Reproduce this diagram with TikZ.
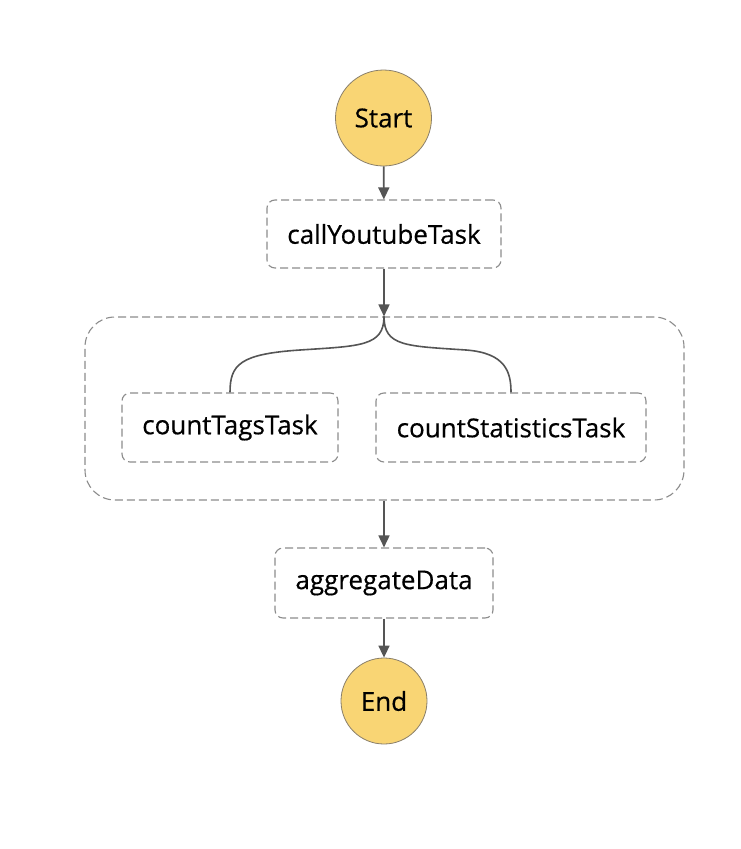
\documentclass[tikz,border=0pt]{standalone}
\usepackage{fontspec}
\setmainfont{Open Sans}[FakeBold=0.5, BoldFont=*]
\usetikzlibrary{arrows.meta}
\definecolor{startfill}{HTML}{F9D574}
\definecolor{circborder}{HTML}{8A7F6A}
\definecolor{dashgray}{HTML}{8C8C8C}
\definecolor{arrowgray}{HTML}{555555}
\tikzset{
  statecirc/.style={circle, fill=startfill, draw=circborder, line width=0.8pt, inner sep=0pt, font=\fontsize{26}{30}\selectfont\bfseries},
  taskbox/.style={rectangle, rounded corners=8pt, draw=dashgray, line width=1.1pt, dash pattern=on 8pt off 4pt, inner sep=0pt, font=\fontsize{26}{30}\selectfont\bfseries},
  flow/.style={draw=arrowgray, line width=1.6pt, -{Triangle[width=11pt,length=12pt]}},
  forkline/.style={draw=arrowgray, line width=1.6pt},
}
\begin{document}
\begin{tikzpicture}[x=1pt,y=-1pt]
\useasboundingbox[fill=white] (0,0) rectangle (740,849);
\node[statecirc, minimum size=96pt] (start) at (383.5,118) {Start};
\node[taskbox, minimum width=234pt, minimum height=68pt] (call) at (384,234) {callYoutubeTask};
\node[taskbox, rounded corners=30pt, minimum width=599pt, minimum height=183pt] (par) at (384.5,408.5) {};
\node[taskbox, minimum width=216pt, minimum height=69pt] (tags) at (230,427.5) {countTagsTask};
\node[taskbox, minimum width=270pt, minimum height=69pt] (stats) at (511,427.5) {countStatisticsTask};
\node[taskbox, minimum width=218pt, minimum height=70pt] (agg) at (384,583) {aggregateData};
\node[statecirc, minimum size=86pt] (end) at (384,701) {End};
\coordinate (fork) at (par.north -| call.south);
\coordinate (join) at (par.south -| agg.north);
\draw[flow] (start) -- (call);
\draw[flow] (call) -- (fork);
\draw[forkline] (fork) .. controls +(0,30) and +(60,-4) .. (300,350) .. controls +(-60,4) and +(0,-28) .. (tags.north);
\draw[forkline] (fork) .. controls +(0,30) and +(-60,-4) .. (466,350) .. controls +(40,3) and +(0,-20) .. (stats.north);
\draw[flow] (join) -- (agg);
\draw[flow] (agg) -- (end);
\end{tikzpicture}
\end{document}
